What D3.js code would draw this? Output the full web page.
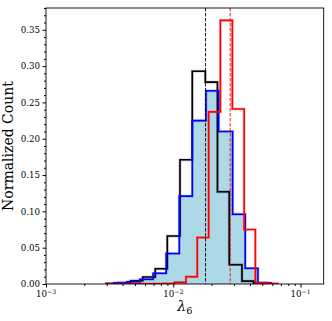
<!DOCTYPE html>
<html>
<head>
<meta charset="utf-8">
<script src="https://cdn.jsdelivr.net/npm/d3@7"></script>
<style>
  body { margin: 0; background: #fff; }
  text { font-family: "DejaVu Serif", serif; }
</style>
</head>
<body>
<div id="chart"></div>
<script>
// Histogram bin edges (lambda_6) and normalized counts
const blackEdges = [0.002966, 0.003705, 0.004628, 0.00575, 0.007222, 0.008973, 0.011288,
  0.014102, 0.017845, 0.022245, 0.027536, 0.034647, 0.042658, 0.0530];
const blackCounts = [0.0007, 0.0018, 0.0045, 0.0096, 0.021, 0.066, 0.171,
  0.293, 0.278, 0.127, 0.0266, 0.004, 0.0015];

const blueEdges = [0.003409, 0.00432, 0.005476, 0.00694, 0.008795, 0.011145, 0.014102,
  0.018068, 0.022731, 0.029281, 0.036778, 0.04628, 0.05855];
const blueCounts = [0.0015, 0.003, 0.0065, 0.0147, 0.042, 0.121,
  0.225, 0.266, 0.210, 0.096, 0.0216, 0.0015];

const redEdges = [0.002928, 0.003606, 0.004447, 0.005476, 0.006754, 0.0083, 0.010238,
  0.012583, 0.015434, 0.018972, 0.023442, 0.029125, 0.036058, 0.044157, 0.05407, 0.06622];
const redCounts = [0, 0, 0.0002, 0.0002, 0.0004, 0.0005, 0.0023,
  0.010, 0.064, 0.237, 0.363, 0.241, 0.075, 0.0018, 0.0006];

// dashed reference lines
const blackRef = 0.01793;
const redRef = 0.0280;

const yTicks = [0, 0.05, 0.10, 0.15, 0.20, 0.25, 0.30, 0.35];
const xTicks = [1e-3, 1e-2, 1e-1];
const xTickExp = ["−3", "−2", "−1"];

const width = 332, height = 321;
const margin = { left: 46, right: 8.3, top: 8, bottom: 37 };

const svg = d3.select("#chart").append("svg")
  .attr("width", width)
  .attr("height", height);

const x = d3.scaleLog()
  .domain([1e-3, 0.152])
  .range([margin.left, width - margin.right]);

const y = d3.scaleLinear()
  .domain([0, 0.38])
  .range([height - margin.bottom, margin.top]);

svg.append("clipPath").attr("id", "clip")
  .append("rect")
  .attr("x", margin.left).attr("y", margin.top)
  .attr("width", width - margin.left - margin.right)
  .attr("height", height - margin.top - margin.bottom);

// build step-outline points for a histogram
function stepPoints(edges, counts) {
  const pts = [[edges[0], 0]];
  counts.forEach((c, i) => pts.push([edges[i], c]));
  pts.push([edges[edges.length - 1], counts[counts.length - 1]]);
  pts.push([edges[edges.length - 1], 0]);
  return pts;
}

const line = d3.line()
  .x(d => x(d[0]))
  .y(d => y(d[1]))
  .curve(d3.curveStepAfter);

const plot = svg.append("g").attr("clip-path", "url(#clip)");

// filled blue histogram
plot.append("path")
  .attr("d", line(stepPoints(blueEdges, blueCounts)) + "Z")
  .attr("fill", "#add8e6")
  .attr("stroke", "none");

// outlines
[[blackEdges, blackCounts, "#000"], [blueEdges, blueCounts, "#0000ff"], [redEdges, redCounts, "#ff0000"]]
  .forEach(([e, c, col]) => {
    plot.append("path")
      .attr("d", line(stepPoints(e, c)))
      .attr("fill", "none")
      .attr("stroke", col)
      .attr("stroke-opacity", 0.25)
      .attr("stroke-width", 2.8);
    plot.append("path")
      .attr("d", line(stepPoints(e, c)))
      .attr("fill", "none")
      .attr("stroke", col)
      .attr("stroke-width", 1.6);
  });

// dashed vertical lines
[[blackRef, "#000"], [redRef, "#ff0000"]].forEach(([v, col]) => {
  plot.append("line")
    .attr("x1", x(v)).attr("x2", x(v))
    .attr("y1", margin.top).attr("y2", height - margin.bottom)
    .attr("stroke", col)
    .attr("stroke-width", 0.9)
    .attr("stroke-dasharray", "3.5,1.5");
});

// frame
svg.append("rect")
  .attr("x", margin.left).attr("y", margin.top)
  .attr("width", width - margin.left - margin.right)
  .attr("height", height - margin.top - margin.bottom)
  .attr("fill", "none")
  .attr("stroke", "#000")
  .attr("stroke-width", 0.9);

// y axis
const yMinor = d3.range(0, 0.381, 0.01).filter(v => Math.abs(v * 20 - Math.round(v * 20)) > 1e-6);
svg.append("g")
  .attr("transform", `translate(${margin.left},0)`)
  .call(d3.axisLeft(y).tickValues(yMinor).tickSize(2).tickFormat(""))
  .call(g => g.select(".domain").remove());

svg.append("g")
  .attr("transform", `translate(${margin.left},0)`)
  .call(d3.axisLeft(y).tickValues(yTicks).tickSize(3.5).tickPadding(2.5).tickFormat(d3.format(".2f")))
  .call(g => g.select(".domain").remove())
  .call(g => g.selectAll("text").attr("font-family", "DejaVu Serif").attr("font-size", "8.7px").attr("fill", "#000"));

// x axis
const xMinor = [];
[1e-3, 1e-2].forEach(dec => { for (let k = 2; k <= 9; k++) xMinor.push(k * dec); });
svg.append("g")
  .attr("transform", `translate(0,${height - margin.bottom})`)
  .call(d3.axisBottom(x).tickValues(xMinor).tickSize(2).tickFormat(""))
  .call(g => g.select(".domain").remove());

svg.append("g")
  .attr("transform", `translate(0,${height - margin.bottom})`)
  .call(d3.axisBottom(x).tickValues(xTicks).tickSize(3.5).tickFormat(""))
  .call(g => g.select(".domain").remove());

xTicks.forEach((v, i) => {
  const t = svg.append("text")
    .attr("x", x(v))
    .attr("y", height - margin.bottom + 13)
    .attr("text-anchor", "middle")
    .attr("font-size", "8.7px");
  t.append("tspan").text("10");
  t.append("tspan").attr("dy", -3.5).attr("font-size", "6.2px").text(xTickExp[i]);
});

// axis labels
svg.append("text")
  .attr("transform", `translate(13,${(margin.top + height - margin.bottom) / 2}) rotate(-90)`)
  .attr("text-anchor", "middle")
  .attr("font-size", "14px")
  .text("Normalized Count");

const xl = svg.append("text")
  .attr("x", (margin.left + width - margin.right) / 2)
  .attr("y", 311)
  .attr("text-anchor", "middle")
  .attr("font-size", "14px");
xl.append("tspan").attr("font-style", "italic").text("λ");
xl.append("tspan").attr("dy", 2.5).attr("font-size", "9.8px").text("6");
</script>
</body>
</html>
